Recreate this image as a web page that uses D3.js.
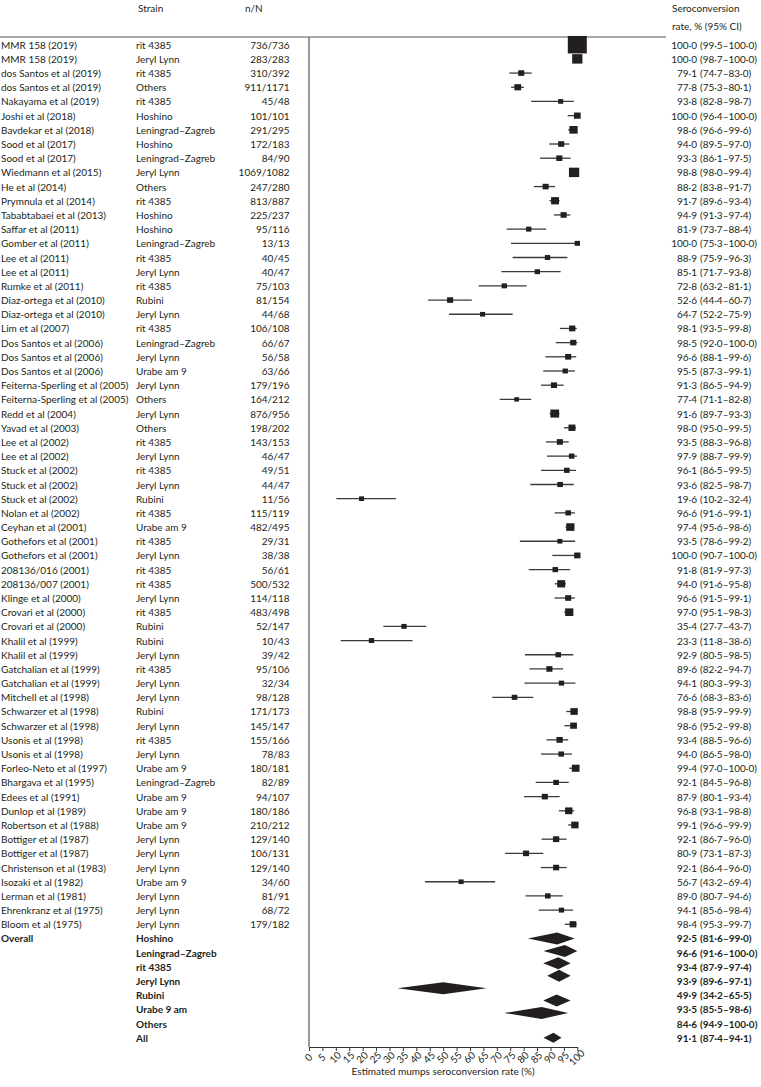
<!DOCTYPE html>
<html><head><meta charset="utf-8">
<script src="https://cdn.jsdelivr.net/npm/d3@7"></script>
<style>
body{margin:0;background:#fff}
svg text{font-family:Lato,"Open Sans",sans-serif}
</style>
</head><body>
<svg id="chart" width="761" height="1087"></svg>
<script>
const studies = ["MMR 158 (2019)","MMR 158 (2019)","dos Santos et al (2019)","dos Santos et al (2019)","Nakayama et al (2019)","Joshi et al (2018)","Bavdekar et al (2018)","Sood et al (2017)","Sood et al (2017)","Wiedmann et al (2015)","He et al (2014)","Prymnula et al (2014)","Tababtabaei et al (2013)","Saffar et al (2011)","Gomber et al (2011)","Lee et al (2011)","Lee et al (2011)","Rumke et al (2011)","Diaz-ortega et al (2010)","Diaz-ortega et al (2010)","Lim et al (2007)","Dos Santos et al (2006)","Dos Santos et al (2006)","Dos Santos et al (2006)","Feiterna-Sperling et al (2005)","Feiterna-Sperling et al (2005)","Redd et al (2004)","Yavad et al (2003)","Lee et al (2002)","Lee et al (2002)","Stuck et al (2002)","Stuck et al (2002)","Stuck et al (2002)","Nolan et al (2002)","Ceyhan et al (2001)","Gothefors et al (2001)","Gothefors et al (2001)","208136/016 (2001)","208136/007 (2001)","Klinge et al (2000)","Crovari et al (2000)","Crovari et al (2000)","Khalil et al (1999)","Khalil et al (1999)","Gatchalian et al (1999)","Gatchalian et al (1999)","Mitchell et al (1998)","Schwarzer et al (1998)","Schwarzer et al (1998)","Usonis et al (1998)","Usonis et al (1998)","Forleo-Neto et al (1997)","Bhargava et al (1995)","Edees et al (1991)","Dunlop et al (1989)","Robertson et al (1988)","Bottiger et al (1987)","Bottiger et al (1987)","Christenson et al (1983)","Isozaki et al (1982)","Lerman et al (1981)","Ehrenkranz et al (1975)","Bloom et al (1975)"];

const strains = ["rit 4385","Jeryl Lynn","rit 4385","Others","rit 4385","Hoshino","Leningrad–Zagreb","Hoshino","Leningrad–Zagreb","Jeryl Lynn","Others","rit 4385","Hoshino","Hoshino","Leningrad–Zagreb","rit 4385","Jeryl Lynn","rit 4385","Rubini","Jeryl Lynn","rit 4385","Leningrad–Zagreb","Jeryl Lynn","Urabe am 9","Jeryl Lynn","Others","Jeryl Lynn","Others","rit 4385","Jeryl Lynn","rit 4385","Jeryl Lynn","Rubini","rit 4385","Urabe am 9","rit 4385","Jeryl Lynn","rit 4385","rit 4385","Jeryl Lynn","rit 4385","Rubini","Rubini","Jeryl Lynn","rit 4385","Jeryl Lynn","Jeryl Lynn","Rubini","Jeryl Lynn","rit 4385","Jeryl Lynn","Urabe am 9","Leningrad–Zagreb","Urabe am 9","Urabe am 9","Urabe am 9","Jeryl Lynn","Jeryl Lynn","Jeryl Lynn","Urabe am 9","Jeryl Lynn","Jeryl Lynn","Jeryl Lynn"];

const nN = ["736/736","283/283","310/392","911/1171","45/48","101/101","291/295","172/183","84/90","1069/1082","247/280","813/887","225/237","95/116","13/13","40/45","40/47","75/103","81/154","44/68","106/108","66/67","56/58","63/66","179/196","164/212","876/956","198/202","143/153","46/47","49/51","44/47","11/56","115/119","482/495","29/31","38/38","56/61","500/532","114/118","483/498","52/147","10/43","39/42","95/106","32/34","98/128","171/173","145/147","155/166","78/83","180/181","82/89","94/107","180/186","210/212","129/140","106/131","129/140","34/60","81/91","68/72","179/182"];

const est = [100.0,100.0,79.1,77.8,93.8,100.0,98.6,94.0,93.3,98.8,88.2,91.7,94.9,81.9,100.0,88.9,85.1,72.8,52.6,64.7,98.1,98.5,96.6,95.5,91.3,77.4,91.6,98.0,93.5,97.9,96.1,93.6,19.6,96.6,97.4,93.5,100.0,91.8,94.0,96.6,97.0,35.4,23.3,92.9,89.6,94.1,76.6,98.8,98.6,93.4,94.0,99.4,92.1,87.9,96.8,99.1,92.1,80.9,92.1,56.7,89.0,94.1,98.4];
const lo = [99.5,98.7,74.7,75.3,82.8,96.4,96.6,89.5,86.1,98.0,83.8,89.6,91.3,73.7,75.3,75.9,71.7,63.2,44.4,52.2,93.5,92.0,88.1,87.3,86.5,71.1,89.7,95.0,88.3,88.7,86.5,82.5,10.2,91.6,95.6,78.6,90.7,81.9,91.6,91.5,95.1,27.7,11.8,80.5,82.2,80.3,68.3,95.9,95.2,88.5,86.5,97.0,84.5,80.1,93.1,96.6,86.7,73.1,86.4,43.2,80.7,85.6,95.3];
const hi = [100.0,100.0,83.0,80.1,98.7,100.0,99.6,97.0,97.5,99.4,91.7,93.4,97.4,88.4,100.0,96.3,93.8,81.1,60.7,75.9,99.8,100.0,99.6,99.1,94.9,82.8,93.3,99.5,96.8,99.9,99.5,98.7,32.4,99.1,98.6,99.2,100.0,97.3,95.8,99.1,98.3,43.7,38.6,98.5,94.7,99.3,83.6,99.9,99.8,96.6,98.0,100.0,96.8,93.4,98.8,99.9,96.0,87.3,96.0,69.4,94.6,98.4,99.7];
// study weight (%)
const weights = [12.7,3.7,1.3,1.6,0.9,1.6,2.4,1.3,1.3,3.7,1.3,2.2,1.3,1.0,1.0,1.0,1.0,1.0,1.3,0.9,1.4,1.3,1.3,1.0,1.3,0.8,2.7,1.7,1.3,1.1,1.1,1.1,0.9,1.1,2.4,0.9,1.4,1.1,2.2,1.3,2.4,1.0,1.0,1.1,1.3,1.0,1.1,1.9,1.6,1.4,1.1,2.1,1.1,1.3,1.9,1.9,1.4,1.3,1.3,0.9,1.1,1.0,1.6];

// pooled estimates
const summaryStrains = ["Hoshino","Leningrad–Zagreb","rit 4385","Jeryl Lynn","Rubini","Urabe 9 am","Others","All"];
const summaryEst = [92.5,96.6,93.4,93.9,49.9,93.5,84.6,91.1];
const summaryLo = [81.6,91.6,87.9,89.6,34.2,85.5,94.9,87.4];
const summaryHi = [99.0,100.0,97.4,97.1,65.5,98.6,100.0,94.1];
// diamonds as drawn in the figure
const diamondEst = [92.5,95.4,92.9,93.2,50.0,92.3,86.7,91.1];
const diamondLo = [81.6,87.4,87.3,88.8,33.0,87.3,72.8,87.4];
const diamondHi = [99.0,100.0,97.5,97.5,66.2,97.5,96.6,94.1];

const xTicks = d3.range(0, 101, 5);

const fmt = v => d3.format(".1f")(v).replace(".", "·");

const svg = d3.select("#chart");
const nRows = studies.length + summaryStrains.length;
const y = d3.scalePoint().domain(d3.range(nRows)).range([44.7, 1037.8]);
const rowStep = y.step();
const x = d3.scaleLinear().domain([0, 100]).range([309, 577.3]);
const size = d3.scaleSqrt().domain([0, 12.7]).range([0, 19]);
const axisY = 1047;
const fs = 10;
const ink = "#231f20";

// header
const hdr = svg.append("g").attr("fill", ink).attr("font-size", fs);
hdr.append("text").attr("x", 138).attr("y", 8).attr("dominant-baseline", "central").text("Strain");
hdr.append("text").attr("x", 245).attr("y", 8).attr("dominant-baseline", "central").text("n/N");
hdr.append("text").attr("x", 672).attr("y", 8).attr("dominant-baseline", "central").text("Seroconversion");
hdr.append("text").attr("x", 672).attr("y", 26).attr("dominant-baseline", "central").text("rate, % (95% CI)");
svg.append("line").attr("x1", 0).attr("x2", 666).attr("y1", 37).attr("y2", 37)
  .attr("stroke", "#555").attr("stroke-width", 1);

// vertical reference line at 0
svg.append("line").attr("x1", x(0)).attr("x2", x(0)).attr("y1", 37).attr("y2", axisY)
  .attr("stroke", "#777").attr("stroke-width", 1.5);

// study rows
const rows = svg.append("g").attr("fill", ink).attr("font-size", fs);
studies.forEach((s, i) => {
  const yy = y(i);
  rows.append("text").attr("x", 1).attr("y", yy).attr("dominant-baseline", "central").text(s);
  rows.append("text").attr("x", 136).attr("y", yy).attr("dominant-baseline", "central").text(strains[i]);
  rows.append("text").attr("x", 289.5).attr("y", yy).attr("text-anchor", "end").attr("dominant-baseline", "central").text(nN[i]);
  rows.append("text").attr("x", 697).attr("y", yy).attr("text-anchor", "end").attr("dominant-baseline", "central").text(fmt(est[i]));
  rows.append("text").attr("x", 700).attr("y", yy).attr("dominant-baseline", "central").text("(" + fmt(lo[i]) + "–" + fmt(hi[i]) + ")");
});

// CI lines and squares
const marks = svg.append("g");
studies.forEach((s, i) => {
  const yy = y(i);
  marks.append("line").attr("x1", x(lo[i])).attr("x2", x(hi[i])).attr("y1", yy).attr("y2", yy)
    .attr("stroke", "#3a3a3a").attr("stroke-width", 1.3);
  const w = size(weights[i]);
  marks.append("rect").attr("x", x(est[i]) - w / 2).attr("y", yy - w * 0.46).attr("width", w).attr("height", w * 0.92)
    .attr("fill", ink);
});

// summary section
const sumG = svg.append("g").attr("fill", ink).attr("font-size", fs).attr("font-weight", "bold");
const s0 = studies.length;
sumG.append("text").attr("x", 1).attr("y", y(s0)).attr("dominant-baseline", "central").text("Overall");
summaryStrains.forEach((s, j) => {
  const yy = y(s0 + j);
  sumG.append("text").attr("x", 136).attr("y", yy).attr("dominant-baseline", "central").text(s);
  sumG.append("text").attr("x", 697).attr("y", yy).attr("text-anchor", "end").attr("dominant-baseline", "central").text(fmt(summaryEst[j]));
  sumG.append("text").attr("x", 700).attr("y", yy).attr("dominant-baseline", "central").text("(" + fmt(summaryLo[j]) + "–" + fmt(summaryHi[j]) + ")");
});

// diamonds (strain diamonds are packed slightly tighter than the text rows in the figure)
const dStep = rowStep * 0.875;
const nStr = summaryStrains.length - 1;
const diamondY = j => j < nStr ? y(s0) + j * dStep : y(s0 + j);
summaryStrains.forEach((s, j) => {
  const yy = diamondY(j);
  const h = j < nStr ? 6 : 5;
  const pts = [[x(diamondLo[j]), yy], [x(diamondEst[j]), yy - h], [x(diamondHi[j]), yy], [x(diamondEst[j]), yy + h]];
  svg.append("path").attr("d", d3.line()(pts) + "Z").attr("fill", ink);
});

// axis
const axis = svg.append("g").attr("transform", `translate(0,${axisY})`)
  .call(d3.axisBottom(x).tickValues(xTicks).tickSize(4).tickSizeOuter(0));
axis.select(".domain").attr("stroke", "#333").attr("stroke-width", 1);
axis.selectAll(".tick line").attr("stroke", "#333");
axis.selectAll(".tick text")
  .attr("font-family", "Lato, sans-serif").attr("font-size", 10).attr("fill", ink)
  .attr("y", 0).attr("dy", "0.35em").attr("text-anchor", "middle")
  .attr("transform", "translate(-1,10.5) rotate(-45)");

svg.append("text").attr("x", (x(0) + x(100)) / 2).attr("y", 1071)
  .attr("text-anchor", "middle").attr("dominant-baseline", "central")
  .attr("font-size", 10).attr("fill", ink).text("Estimated mumps seroconversion rate (%)");
</script>
</body></html>
